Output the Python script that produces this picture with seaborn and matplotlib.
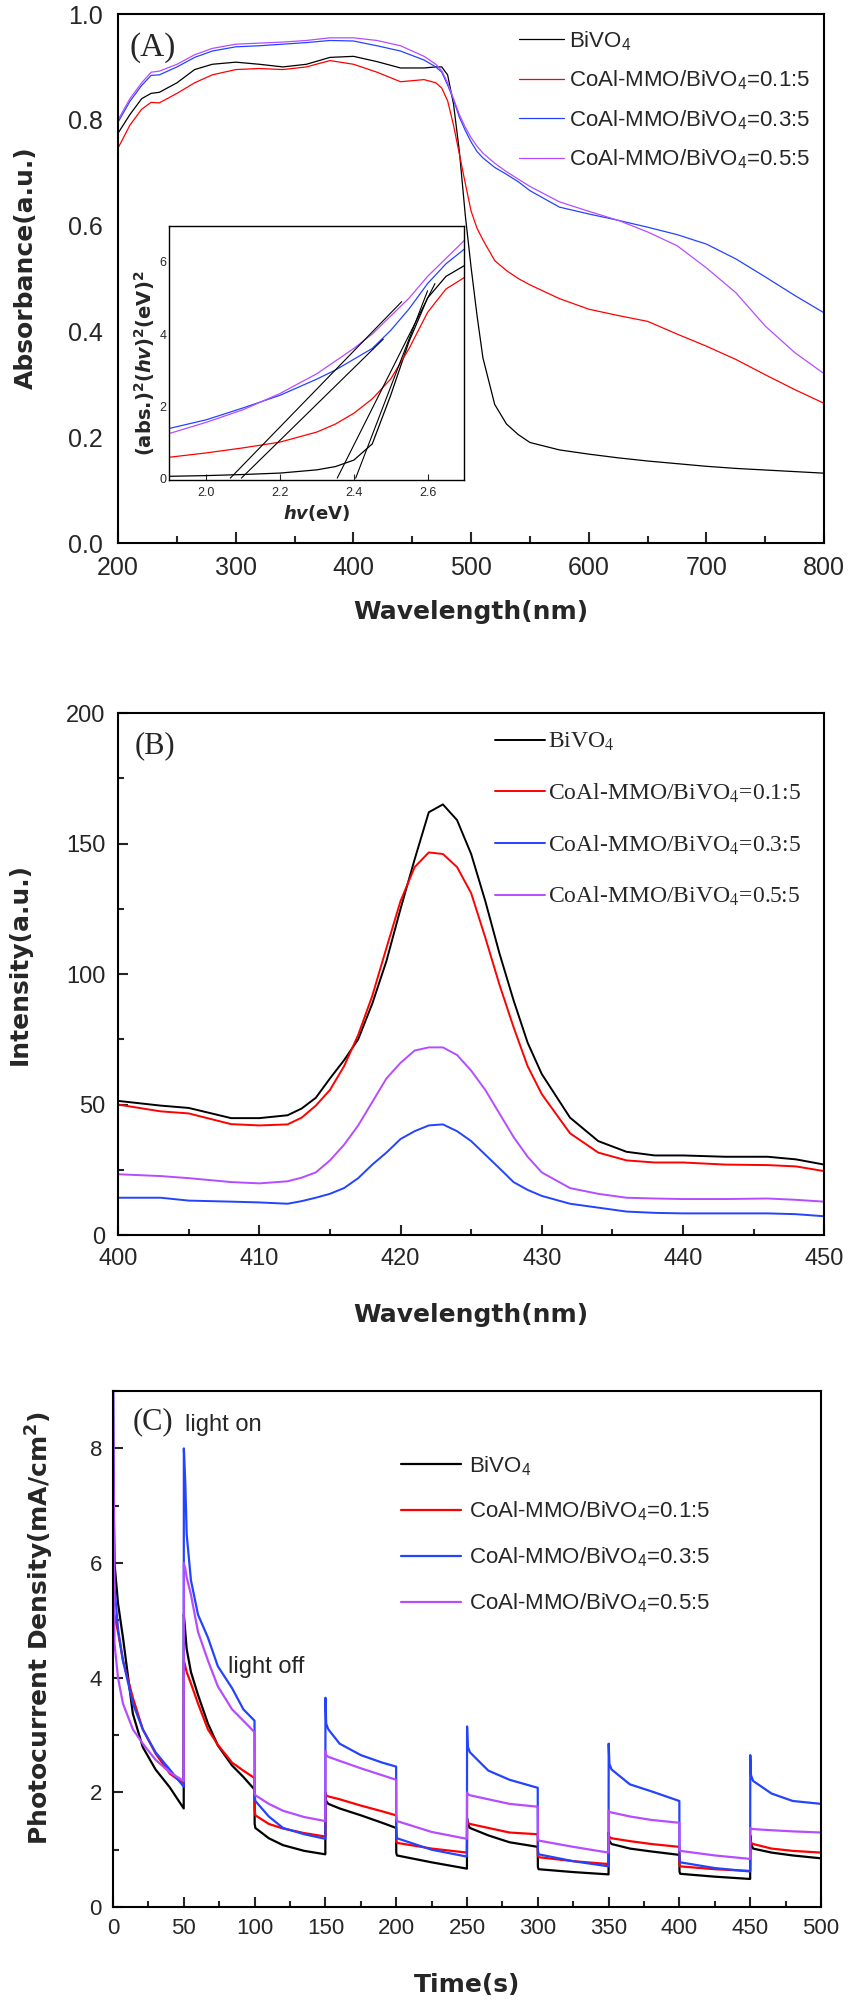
import seaborn as sns
import matplotlib.pyplot as plt
from matplotlib.font_manager import FontProperties
from matplotlib.ticker import MultipleLocator

# ---------------- data ----------------
# (A) UV-vis absorbance
wavelength = [200, 210, 220, 228, 235, 250, 265, 280, 300, 320, 340, 360, 380, 400,
              420, 440, 460, 470, 475, 480, 485, 490, 495, 500, 505, 510, 520, 530,
              540, 550, 575, 600, 625, 650, 675, 700, 725, 750, 775, 800]
abs_bivo4 = [0.775, 0.81, 0.84, 0.85, 0.852, 0.87, 0.895, 0.905, 0.909, 0.905, 0.90, 0.905,
             0.918, 0.92, 0.91, 0.898, 0.898, 0.90, 0.90, 0.885, 0.83, 0.74, 0.62, 0.52,
             0.43, 0.35, 0.262, 0.225, 0.205, 0.19, 0.176, 0.168, 0.161, 0.155, 0.15,
             0.145, 0.141, 0.138, 0.135, 0.132]
abs_01 = [0.747, 0.79, 0.82, 0.833, 0.832, 0.85, 0.87, 0.885, 0.895, 0.897, 0.895, 0.90,
          0.912, 0.905, 0.89, 0.872, 0.876, 0.87, 0.86, 0.836, 0.79, 0.735, 0.68, 0.627,
          0.595, 0.573, 0.534, 0.515, 0.50, 0.488, 0.462, 0.442, 0.43, 0.419, 0.395,
          0.372, 0.347, 0.318, 0.29, 0.264]
abs_03 = [0.796, 0.835, 0.865, 0.884, 0.885, 0.90, 0.918, 0.93, 0.938, 0.94, 0.943, 0.946,
          0.95, 0.949, 0.94, 0.93, 0.913, 0.90, 0.89, 0.866, 0.838, 0.805, 0.78, 0.758,
          0.74, 0.728, 0.71, 0.697, 0.683, 0.666, 0.635, 0.622, 0.61, 0.597, 0.583,
          0.565, 0.537, 0.503, 0.468, 0.435]
abs_05 = [0.80, 0.84, 0.87, 0.89, 0.892, 0.905, 0.923, 0.935, 0.943, 0.945, 0.947, 0.95,
          0.955, 0.955, 0.95, 0.94, 0.92, 0.905, 0.893, 0.87, 0.84, 0.81, 0.786, 0.766,
          0.75, 0.737, 0.718, 0.702, 0.688, 0.674, 0.645, 0.627, 0.61, 0.588, 0.562,
          0.52, 0.473, 0.41, 0.36, 0.32]

# (A) inset: Tauc plot
energy = [1.90, 2.00, 2.10, 2.20, 2.30, 2.35, 2.40, 2.45, 2.50, 2.55, 2.60, 2.65, 2.70]
tauc_bivo4 = [0.05, 0.07, 0.10, 0.14, 0.23, 0.32, 0.50, 0.95, 2.3, 3.8, 5.0, 5.6, 5.9]
tauc_01 = [0.58, 0.70, 0.84, 1.00, 1.28, 1.50, 1.80, 2.20, 2.75, 3.6, 4.6, 5.25, 5.57]
tauc_03 = [1.38, 1.62, 1.95, 2.30, 2.75, 3.00, 3.30, 3.60, 4.10, 4.7, 5.4, 5.95, 6.36]
tauc_05 = [1.24, 1.55, 1.90, 2.35, 2.90, 3.25, 3.60, 4.00, 4.50, 5.0, 5.6, 6.10, 6.60]
tangent_x = [[2.065, 2.53], [2.095, 2.48], [2.355, 2.62], [2.405, 2.60]]
tangent_y = [[0, 4.9], [0, 3.86], [0, 5.4], [0, 5.2]]

# (B) PL spectra
pl_wl = [400, 403, 405, 408, 410, 412, 413, 414, 415, 416, 417, 418, 419, 420, 421, 422,
         423, 424, 425, 426, 427, 428, 429, 430, 432, 434, 436, 438, 440, 443, 446, 448, 450]
pl_bivo4 = [51.4, 49.6, 48.7, 44.8, 44.8, 45.9, 48.5, 52.6, 60, 67, 75, 88.7, 105, 125, 144,
            162, 165, 159, 146, 128, 108, 90, 73.7, 61.7, 45, 36, 31.9, 30.5, 30.5, 30, 30,
            29, 27]
pl_01 = [50, 47.4, 46.6, 42.5, 42, 42.4, 45, 49.6, 55.6, 64.7, 76.7, 91.7, 110, 128, 141,
         146.6, 146, 141, 131, 114, 96, 79.7, 64.7, 54, 39, 31.6, 28.6, 27.8, 27.8, 27,
         26.8, 26.3, 24.5]
pl_03 = [14.3, 14.3, 13.2, 12.8, 12.5, 12, 13, 14.3, 15.8, 18, 21.8, 27, 31.6, 36.8, 39.8,
         42, 42.4, 39.8, 36, 30.8, 25.6, 20.3, 17.3, 15, 12, 10.5, 9, 8.5, 8.3, 8.3, 8.3,
         8, 7.2]
pl_05 = [23.3, 22.6, 21.8, 20.3, 19.8, 20.6, 22, 24, 28.6, 34.6, 42, 51, 60, 66, 70.7, 71.9,
         71.9, 69, 63, 55.6, 46.6, 37.6, 30, 24, 18, 15.8, 14.3, 14, 13.8, 13.8, 14, 13.5,
         12.8]

# (C) transient photocurrent
time_s = [0, 1, 3.5, 7, 14, 21, 30, 40, 49.9,
          50, 51, 52, 55, 60, 67, 74, 84, 92, 99.9,
          100, 100.5, 110, 120, 135, 149.9,
          150, 150.5, 152, 160, 175, 190, 199.9,
          200, 200.5, 225, 249.9,
          250, 250.5, 252, 265, 280, 299.9,
          300, 300.5, 325, 349.9,
          350, 350.5, 352, 365, 380, 399.9,
          400, 400.5, 425, 449.9,
          450, 450.5, 452, 465, 480, 500]
pc_bivo4 = [7.8, 6.0, 5.3, 4.7, 3.37, 2.79, 2.4, 2.09, 1.72,
            5.1, 4.8, 4.5, 4.1, 3.7, 3.2, 2.82, 2.47, 2.27, 2.05,
            1.45, 1.38, 1.2, 1.08, 0.98, 0.92,
            1.95, 1.85, 1.8, 1.72, 1.6, 1.47, 1.38,
            0.95, 0.9, 0.78, 0.67,
            1.55, 1.45, 1.38, 1.25, 1.13, 1.05,
            0.7, 0.66, 0.61, 0.57,
            1.3, 1.15, 1.1, 1.02, 0.97, 0.91,
            0.62, 0.58, 0.53, 0.49,
            1.25, 1.1, 1.02, 0.95, 0.9, 0.85]
pc_01 = [5.2, 5.1, 4.8, 4.3, 3.65, 3.1, 2.68, 2.33, 2.15,
         4.3, 4.2, 4.1, 3.9, 3.55, 3.1, 2.83, 2.52, 2.38, 2.25,
         1.7, 1.6, 1.45, 1.37, 1.29, 1.23,
         2.0, 1.95, 1.93, 1.88, 1.77, 1.67, 1.6,
         1.15, 1.12, 1.02, 0.95,
         1.5, 1.47, 1.45, 1.38, 1.3, 1.27,
         0.9, 0.87, 0.8, 0.75,
         1.25, 1.22, 1.2, 1.15, 1.1, 1.05,
         0.73, 0.71, 0.66, 0.63,
         1.15, 1.12, 1.1, 1.02, 0.98, 0.95]
pc_03 = [9.5, 5.6, 4.85, 4.3, 3.55, 3.1, 2.7, 2.4, 2.1,
         8.0, 7.4, 6.5, 5.7, 5.1, 4.7, 4.2, 3.82, 3.45, 3.25,
         1.95, 1.85, 1.58, 1.38, 1.27, 1.19,
         3.65, 3.2, 3.1, 2.85, 2.65, 2.52, 2.45,
         1.35, 1.2, 1.0, 0.88,
         3.15, 2.8, 2.7, 2.38, 2.22, 2.08,
         1.0, 0.92, 0.8, 0.71,
         2.85, 2.5, 2.4, 2.14, 2.02, 1.85,
         0.82, 0.78, 0.68, 0.62,
         2.65, 2.3, 2.2, 1.98, 1.85, 1.8]
pc_05 = [9.5, 4.6, 4.0, 3.55, 3.1, 2.85, 2.57, 2.35, 2.2,
         6.0, 5.9, 5.75, 5.45, 4.8, 4.3, 3.85, 3.45, 3.25, 3.05,
         1.98, 1.95, 1.8, 1.68, 1.57, 1.5,
         2.72, 2.65, 2.62, 2.55, 2.42, 2.3, 2.22,
         1.55, 1.5, 1.31, 1.19,
         2.0, 1.97, 1.95, 1.88, 1.8, 1.75,
         1.2, 1.16, 1.05, 0.95,
         1.68, 1.66, 1.65, 1.58, 1.52, 1.47,
         1.0, 0.98, 0.9, 0.84,
         1.38, 1.37, 1.36, 1.34, 1.32, 1.3]

sample_labels = ['BiVO$_4$', 'CoAl-MMO/BiVO$_4$=0.1:5',
                 'CoAl-MMO/BiVO$_4$=0.3:5', 'CoAl-MMO/BiVO$_4$=0.5:5']
sample_colors = ['#000000', '#ff0000', '#2443ff', '#b64cff']

# ---------------- style ----------------
sns.set_style('ticks', {'xtick.direction': 'in', 'ytick.direction': 'in'})
plt.rcParams['font.family'] = ['Liberation Sans', 'DejaVu Sans']
plt.rcParams['mathtext.fontset'] = 'custom'
plt.rcParams['mathtext.rm'] = 'Liberation Sans'
plt.rcParams['mathtext.it'] = 'DejaVu Sans:bold:italic'
plt.rcParams['mathtext.bf'] = 'DejaVu Sans:bold'

BOLD = dict(fontfamily='DejaVu Sans', fontweight='bold', fontsize=18)


def style_frame(ax, lw):
    for sp in ax.spines.values():
        sp.set_linewidth(lw)
        sp.set_color('black')


def panel_a(fig):
    ax = fig.add_axes([0.139, 0.7289, 0.8306, 0.2641])
    for ys, lab, col in zip([abs_bivo4, abs_01, abs_03, abs_05], sample_labels, sample_colors):
        sns.lineplot(x=wavelength, y=ys, ax=ax, color=col, lw=0.9, label=lab,
                     sort=False, estimator=None)
    ax.set_xlim(200, 800)
    ax.set_ylim(0, 1.0)
    ax.xaxis.set_major_locator(MultipleLocator(100))
    ax.xaxis.set_minor_locator(MultipleLocator(50))
    ax.yaxis.set_major_locator(MultipleLocator(0.2))
    ax.yaxis.set_major_formatter(plt.FormatStrFormatter('%.1f'))
    ax.tick_params(axis='x', which='major', length=8, width=1.5, pad=9, labelsize=18)
    ax.tick_params(axis='x', which='minor', length=5, width=1.5)
    ax.tick_params(axis='y', which='major', length=0, pad=11, labelsize=18)
    style_frame(ax, 1.5)
    ax.set_xlabel('Wavelength(nm)', va='center', **BOLD)
    ax.set_ylabel('Absorbance(a.u.)', va='center', **BOLD)
    ax.xaxis.set_label_coords(0.5, -0.130)
    ax.yaxis.set_label_coords(-0.130, 0.52)
    ax.text(0.049, 0.936, '(A)', transform=ax.transAxes, ha='center', va='center',
            fontfamily='Liberation Serif', fontsize=24)
    ax.legend(loc='center left', bbox_to_anchor=(0.568, 0.837), frameon=False,
              borderpad=0, borderaxespad=0, handlelength=2.0, handletextpad=0.25,
              labelspacing=0.72,
              prop=FontProperties(family='Liberation Sans', size=16, math_fontfamily='custom'))

    # inset Tauc plot
    ins = fig.add_axes([0.1994, 0.7604, 0.347, 0.1268])
    for ys, col in zip([tauc_bivo4, tauc_01, tauc_03, tauc_05], sample_colors):
        sns.lineplot(x=energy, y=ys, ax=ins, color=col, lw=0.9, sort=False, estimator=None)
    for tx, ty in zip(tangent_x, tangent_y):
        sns.lineplot(x=tx, y=ty, ax=ins, color='black', lw=0.8, sort=False, estimator=None)
    ins.set_xlim(1.9, 2.7)
    ins.set_ylim(-0.05, 7.0)
    ins.xaxis.set_major_locator(MultipleLocator(0.2))
    ins.yaxis.set_major_locator(MultipleLocator(2))
    ins.xaxis.set_major_formatter(plt.FormatStrFormatter('%.1f'))
    ins.tick_params(axis='x', length=4, width=0.8, pad=5, labelsize=9)
    ins.tick_params(axis='y', length=0, pad=2, labelsize=9)
    style_frame(ins, 1.0)
    ins.set_xlabel('$hv$(eV)', fontfamily='DejaVu Sans', fontweight='bold', fontsize=13,
                   math_fontfamily='custom', labelpad=3)
    ins.set_ylabel('(abs.)$^\\mathbf{2}$($hv$)$^\\mathbf{2}$(eV)$^\\mathbf{2}$',
                   fontfamily='DejaVu Sans', fontweight='bold', fontsize=14,
                   math_fontfamily='custom', va='center')
    ins.yaxis.set_label_coords(-0.083, 0.46)


def panel_b(fig):
    ax = fig.add_axes([0.139, 0.3834, 0.8306, 0.2606])
    for ys, lab, col in zip([pl_bivo4, pl_01, pl_03, pl_05], sample_labels, sample_colors):
        sns.lineplot(x=pl_wl, y=ys, ax=ax, color=col, lw=1.4, label=lab,
                     sort=False, estimator=None)
    ax.set_xlim(400, 450)
    ax.set_ylim(0, 200)
    ax.xaxis.set_major_locator(MultipleLocator(10))
    ax.xaxis.set_minor_locator(MultipleLocator(5))
    ax.yaxis.set_major_locator(MultipleLocator(50))
    ax.yaxis.set_minor_locator(MultipleLocator(25))
    ax.tick_params(which='major', length=7, width=1.5, pad=9, labelsize=17)
    ax.tick_params(which='minor', length=4, width=1.5)
    style_frame(ax, 1.5)
    ax.set_xlabel('Wavelength(nm)', va='center', **BOLD)
    ax.set_ylabel('Intensity(a.u.)', va='center', **BOLD)
    ax.xaxis.set_label_coords(0.5, -0.153)
    ax.yaxis.set_label_coords(-0.140, 0.519)
    ax.text(0.052, 0.937, '(B)', transform=ax.transAxes, ha='center', va='center',
            fontfamily='Liberation Serif', fontsize=22)
    ax.legend(loc='center left', bbox_to_anchor=(0.534, 0.796), frameon=False,
              borderpad=0, borderaxespad=0, handlelength=2.1, handletextpad=0.15,
              labelspacing=1.2,
              prop=FontProperties(family='Liberation Serif', size=17, math_fontfamily='stix'))


def panel_c(fig):
    ax = fig.add_axes([0.133, 0.0479, 0.833, 0.2576])
    for ys, lab, col in zip([pc_bivo4, pc_01, pc_03, pc_05], sample_labels, sample_colors):
        sns.lineplot(x=time_s, y=ys, ax=ax, color=col, lw=1.6, label=lab,
                     sort=False, estimator=None)
    ax.set_xlim(0, 500)
    ax.set_ylim(0, 9)
    ax.xaxis.set_major_locator(MultipleLocator(50))
    ax.xaxis.set_minor_locator(MultipleLocator(25))
    ax.yaxis.set_major_locator(MultipleLocator(2))
    ax.yaxis.set_minor_locator(MultipleLocator(1))
    ax.tick_params(which='major', length=7, width=1.5, pad=8, labelsize=16)
    ax.tick_params(which='minor', length=4, width=1.5)
    style_frame(ax, 1.5)
    ax.set_xlabel('Time(s)', va='center', **BOLD)
    ax.set_ylabel('Photocurrent Density(mA/cm$^\\mathbf{2}$)', va='center',
                  math_fontfamily='custom', **BOLD)
    ax.xaxis.set_label_coords(0.5, -0.151)
    ax.yaxis.set_label_coords(-0.103, 0.54)
    ax.text(0.056, 0.94, '(C)', transform=ax.transAxes, ha='center', va='center',
            fontfamily='Liberation Serif', fontsize=22)
    ax.text(0.102, 0.934, 'light on', transform=ax.transAxes, ha='left', va='center',
            fontsize=17)
    ax.text(0.162, 0.465, 'light off', transform=ax.transAxes, ha='left', va='center',
            fontsize=17)
    ax.legend(loc='center left', bbox_to_anchor=(0.407, 0.722), frameon=False,
              borderpad=0, borderaxespad=0, handlelength=2.7, handletextpad=0.35,
              labelspacing=1.0,
              prop=FontProperties(family='Liberation Sans', size=16, math_fontfamily='custom'))


def main():
    fig = plt.figure(figsize=(8.5, 20.03), dpi=100)
    panel_a(fig)
    panel_b(fig)
    panel_c(fig)
    fig.savefig('out.png', dpi=100, facecolor='white')


if __name__ == "__main__":
    main()
